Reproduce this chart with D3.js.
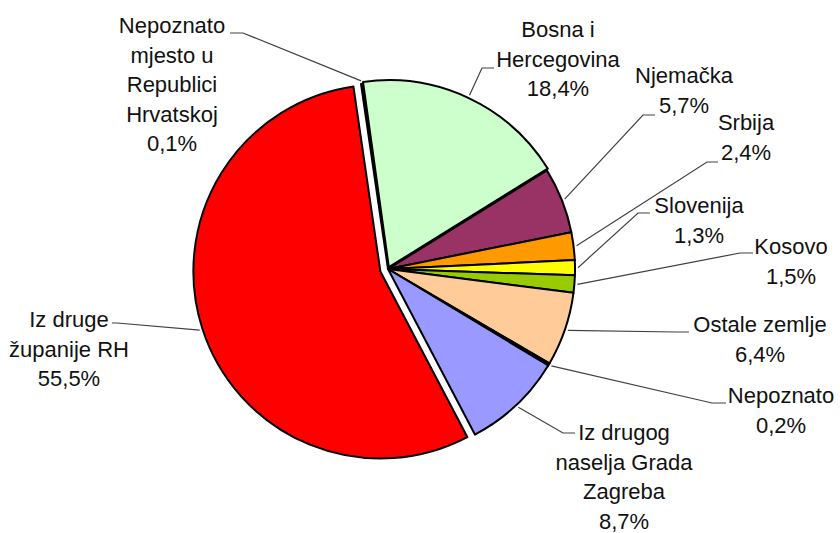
<!DOCTYPE html>
<html>
<head>
<meta charset="utf-8">
<script src="https://cdn.jsdelivr.net/npm/d3@7"></script>
<style>
  body { margin: 0; background: #fff; }
  .lbl { font-family: "Liberation Sans", Arial, sans-serif; font-size: 22px; fill: #111; }
</style>
</head>
<body>
<div id="chart"></div>
<script>
// data, clockwise from the top
var categories = ["Nepoznato mjesto u Republici Hrvatskoj", "Bosna i Hercegovina", "Njemačka", "Srbija",
  "Slovenija", "Kosovo", "Ostale zemlje", "Nepoznato", "Iz drugog naselja Grada Zagreba", "Iz druge županije RH"];
var values = [0.1, 18.4, 5.7, 2.4, 1.3, 1.5, 6.4, 0.2, 8.7, 55.5];
var colors = ["#000000", "#CCFFCC", "#993366", "#FF9900", "#FFFF00", "#99CC00", "#FFCC99", "#000000", "#9999FF", "#FF0000"];

// layout
var svgWidth = 840, svgHeight = 533;
var cx = 388, cy = 269, radius = 187;
var startDeg = -8.3;
var explode = [0, 2, 0, 0, 0, 0, 0, 0, 0, 8];

// label text lines, text centre, first baseline, knee + stub end of the leader
var labelLayout = [
  { lines: ["Nepoznato", "mjesto u", "Republici", "Hrvatskoj"], x: 172, y: 33, knee: [243, 33], end: [230, 33] },
  { lines: ["Bosna i", "Hercegovina"], x: 558, y: 37, knee: [482, 68], end: [494, 68] },
  { lines: ["Njemačka"], x: 684, y: 83, knee: [643, 115], end: [655, 115] },
  { lines: ["Srbija"], x: 746, y: 130, knee: [707, 162], end: [718, 162] },
  { lines: ["Slovenija"], x: 699, y: 213, knee: [638, 213], end: [650, 213] },
  { lines: ["Kosovo"], x: 791, y: 254, knee: [740, 253], end: [753, 253] },
  { lines: ["Ostale zemlje"], x: 760, y: 332, knee: [676, 332], end: [689, 332] },
  { lines: ["Nepoznato"], x: 781, y: 403, knee: [712, 403], end: [726, 403] },
  { lines: ["Iz drugog", "naselja Grada", "Zagreba"], x: 624, y: 440, knee: [563, 433], end: [575, 433] },
  { lines: ["Iz druge", "županije RH"], x: 69, y: 327, knee: [117, 323], end: [112, 323] }
];
var lineHeight = 29.5;

var fmt = function (v) { return d3.format(".1f")(v).replace(".", ",") + "%"; };

var svg = d3.select("#chart")
  .append("svg")
  .attr("width", svgWidth)
  .attr("height", svgHeight);

var a0 = startDeg * Math.PI / 180;
var pie = d3.pie()
  .sort(null)
  .value(d => d)
  .startAngle(a0)
  .endAngle(a0 + 2 * Math.PI);

var arcs = pie(values);
var arc = d3.arc().innerRadius(0).outerRadius(radius);

function offset(d, i, r) {
  var m = (d.startAngle + d.endAngle) / 2;
  return [Math.sin(m) * r, -Math.cos(m) * r];
}

var chartGroup = svg.append("g")
  .attr("transform", `translate(${cx}, ${cy})`);

// leader lines
svg.append("g")
  .selectAll("polyline")
  .data(arcs)
  .enter()
  .append("polyline")
  .attr("points", function (d, i) {
    var p = offset(d, i, radius + 3 + explode[i]);
    var L = labelLayout[i];
    return [[cx + p[0], cy + p[1]], L.knee, L.end].map(q => q.join(",")).join(" ");
  })
  .attr("fill", "none")
  .attr("stroke", "#404040")
  .attr("stroke-width", 1.2);

// slices
chartGroup.selectAll("path")
  .data(arcs)
  .enter()
  .append("path")
  .attr("d", arc)
  .attr("transform", function (d, i) {
    var o = offset(d, i, explode[i]);
    return `translate(${o[0]}, ${o[1]})`;
  })
  .attr("fill", (d, i) => colors[i])
  .attr("stroke", "#000")
  .attr("stroke-width", 2)
  .attr("stroke-linejoin", "round");

// labels
var labels = svg.append("g")
  .selectAll("text")
  .data(arcs)
  .enter()
  .append("text")
  .attr("class", "lbl")
  .attr("text-anchor", "middle");

labels.each(function (d, i) {
  var L = labelLayout[i];
  var t = d3.select(this);
  L.lines.concat([fmt(values[i])]).forEach(function (s, k) {
    t.append("tspan")
      .attr("x", L.x)
      .attr("y", L.y + k * lineHeight)
      .text(s);
  });
});
</script>
</body>
</html>
